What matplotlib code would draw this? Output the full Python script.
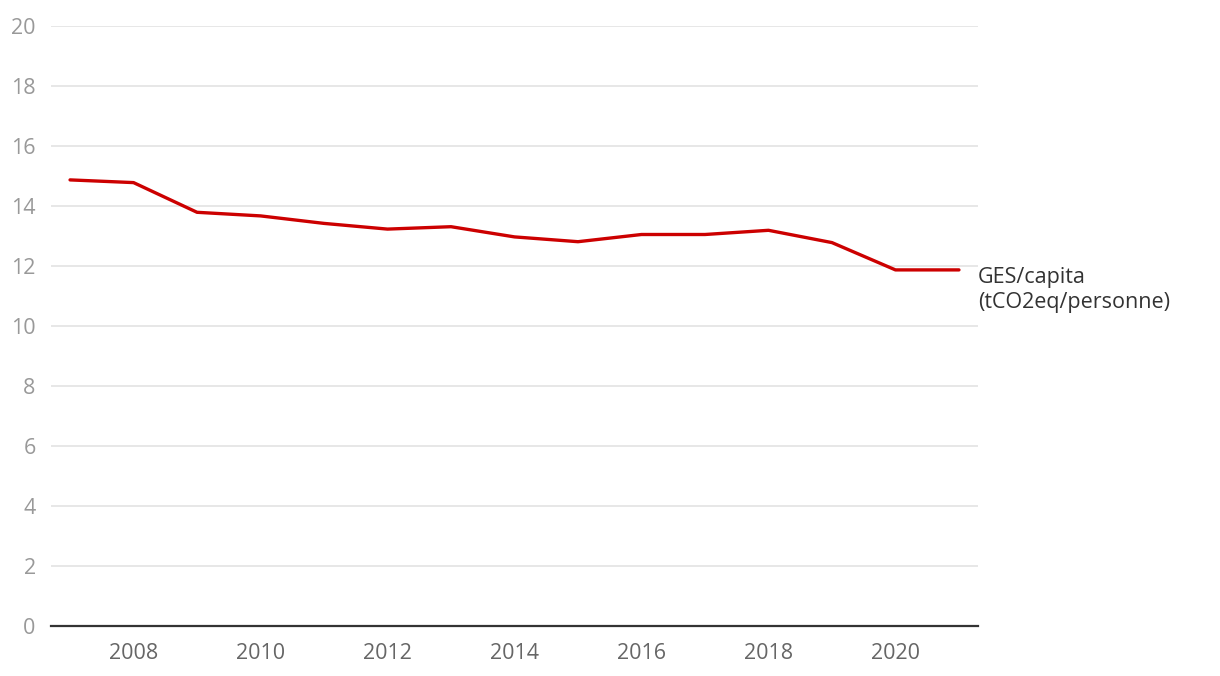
"""GHG emissions per capita line chart."""

import matplotlib

matplotlib.use("Agg")

import matplotlib.pyplot as plt

YEARS = [2007, 2008, 2009, 2010, 2011, 2012, 2013, 2014, 2015, 2016, 2017, 2018, 2019, 2020, 2021]
GES_PER_CAPITA = [14.87, 14.78, 13.79, 13.67, 13.42, 13.23, 13.31, 12.97, 12.81, 13.05, 13.05, 13.19, 12.78, 11.87, 11.87]
Y_TICKS = [0, 2, 4, 6, 8, 10, 12, 14, 16, 18, 20]
X_TICKS = [2008, 2010, 2012, 2014, 2016, 2018, 2020]
SERIES_LABEL = "GES/capita\n(tCO2eq/personne)"


def main() -> None:
  plt.rcParams["font.family"] = ["Open Sans", "DejaVu Sans"]
  fig = plt.figure(figsize=(12.2, 6.76), dpi=100)
  ax = fig.add_axes([51 / 1220, 50 / 676, 927 / 1220, 600 / 676])

  ax.plot(YEARS, GES_PER_CAPITA, color="#cc0000", linewidth=2.4, solid_capstyle="round")
  ax.annotate(
    SERIES_LABEL,
    xy=(YEARS[-1], GES_PER_CAPITA[-1]),
    xytext=(19, -20),
    textcoords="offset pixels",
    va="center",
    ha="left",
    fontsize=15.5,
    color="#333333",
    linespacing=1.25,
    annotation_clip=False,
  )

  ax.set_xlim(2006.7, 2021.3)
  ax.set_ylim(0, 20)
  ax.set_yticks(Y_TICKS)
  ax.set_xticks(X_TICKS)
  ax.grid(axis="y", color="#e3e3e3", linewidth=1.2)
  ax.set_axisbelow(True)
  for side in ("top", "right", "left"):
    ax.spines[side].set_visible(False)
  ax.spines["bottom"].set_color("#333333")
  ax.spines["bottom"].set_linewidth(1.6)
  ax.spines["bottom"].set_zorder(3)
  ax.tick_params(axis="y", length=0, pad=11, labelsize=15.5, labelcolor="#999999")
  ax.tick_params(axis="x", length=0, pad=12, labelsize=15.5, labelcolor="#666666")

  fig.savefig("out.png")
  plt.close(fig)


if __name__ == "__main__":
  main()
